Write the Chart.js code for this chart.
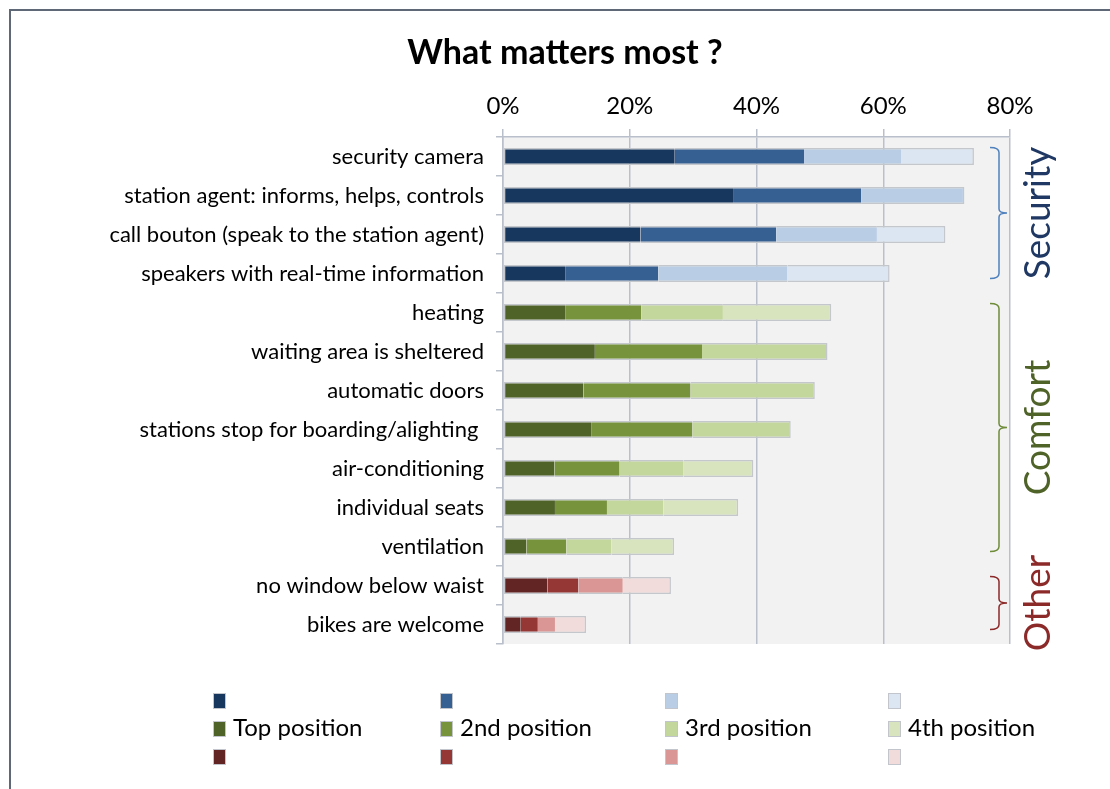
<!DOCTYPE html>
<html>
<head>
<meta charset="utf-8">
<title>What matters most ?</title>
<script src="https://cdn.jsdelivr.net/npm/chart.js@4.4.1/dist/chart.umd.min.js"></script>
<style>
  html, body { margin: 0; padding: 0; background: #fff; overflow: hidden; }
  #wrap { position: relative; width: 1110px; height: 789px; }
  #frame {
    position: absolute; left: 9px; top: 9px; width: 1200px; height: 900px;
    border-left: 2px solid #5f6876; border-top: 2px solid #5f6876;
  }
  canvas { position: absolute; left: 0; top: 0; }
</style>
</head>
<body>
<div id="wrap">
  <div id="frame"></div>
  <canvas id="matterChart" width="1110" height="789"></canvas>
</div>
<script>
// Chart data
const categories = [
    'security camera',
    'station agent: informs, helps, controls',
    'call bouton (speak to the station agent)',
    'speakers with real-time information',
    'heating',
    'waiting area is sheltered',
    'automatic doors',
    'stations stop for boarding/alighting ',
    'air-conditioning',
    'individual seats',
    'ventilation',
    'no window below waist',
    'bikes are welcome'
];
const groupNames = ['Security', 'Comfort', 'Other'];
const groupOf = [0, 0, 0, 0, 1, 1, 1, 1, 1, 1, 1, 2, 2];
const seriesNames = ['Top position', '2nd position', '3rd position', '4th position'];

// share of answers, in %
const topPosition    = [27.1, 36.3, 21.7,  9.8,  9.8, 14.5, 12.7, 13.9,  8.1, 8.2, 3.7, 7.0, 2.8];
const secondPosition = [20.4, 20.2, 21.4, 14.7, 12.0, 16.9, 16.9, 16.0, 10.3, 8.2, 6.3, 4.9, 2.7];
const thirdPosition  = [15.3, 16.3, 15.9, 20.4, 12.9, 19.8, 19.6, 15.5, 10.1, 8.9, 7.1, 7.0, 2.7];
const fourthPosition = [11.5,  0.0, 10.8, 16.1, 17.1,  0.0,  0.0,  0.0, 11.0, 11.8, 9.9, 7.6, 4.9];

const xTickLabels = ['0%', '20%', '40%', '60%', '80%'];

// colours: one row per group, one column per position
const palette = [
    ['#17375e', '#376092', '#b9cde5', '#dce6f2'],
    ['#4f6228', '#77933c', '#c3d69b', '#d7e4bd'],
    ['#632523', '#953735', '#d99694', '#f2dcdb']
];
const bracketColors = ['#4f81bd', '#6f8c3a', '#8c2a2a'];
const groupTextColors = ['#1f3864', '#4f6228', '#8c2a2a'];

const FONT = 'Lato, "Open Sans", sans-serif';
const gridColor = '#b9c0cb';
const barEdge = '#c4c7cc';

const seriesValues = [topPosition, secondPosition, thirdPosition, fourthPosition];

function lastFilled(row) {
    let last = 0;
    seriesValues.forEach((vals, i) => { if (vals[row] > 0) last = i; });
    return last;
}

const datasets = seriesValues.map((vals, s) => ({
    label: seriesNames[s],
    data: vals,
    backgroundColor: groupOf.map(g => palette[g][s]),
    borderColor: barEdge,
    borderSkipped: false,
    borderWidth: ctx => {
        const row = ctx.dataIndex;
        if (!(vals[row] > 0)) return 0;
        return {
            top: 1.5,
            bottom: 1.5,
            left: s === 0 ? 1.5 : 0,
            right: s === lastFilled(row) ? 1.5 : 0
        };
    },
    barPercentage: 0.44,
    categoryPercentage: 1.0
}));

// plot background, title, brackets, group names and legend
const decorations = {
    id: 'decorations',
    beforeDraw(chart) {
        const { ctx, chartArea } = chart;
        ctx.save();
        ctx.fillStyle = '#f2f2f2';
        ctx.fillRect(chartArea.left, chartArea.top,
            chartArea.right - chartArea.left, chartArea.bottom - chartArea.top);
        ctx.restore();
    },
    afterDraw(chart) {
        const { ctx, chartArea } = chart;
        const yScale = chart.scales.y;
        ctx.save();

        // title
        ctx.fillStyle = '#000';
        ctx.font = 'bold 34px ' + FONT;
        ctx.textAlign = 'center';
        ctx.textBaseline = 'middle';
        ctx.fillText('What matters most ?', 565, 53);

        // brackets with group names
        groupNames.forEach((name, g) => {
            const rows = groupOf.map((v, i) => v === g ? i : -1).filter(i => i >= 0);
            const y1 = yScale.getPixelForValue(rows[0]) - 9;
            const y2 = yScale.getPixelForValue(rows[rows.length - 1]) + 5;
            const mid = (y1 + y2) / 2;
            const x0 = chartArea.right - 20;
            const xv = chartArea.right - 11;
            const xt = chartArea.right - 3;
            ctx.strokeStyle = bracketColors[g];
            ctx.lineWidth = 1.5;
            ctx.beginPath();
            ctx.moveTo(x0, y1);
            ctx.quadraticCurveTo(xv, y1, xv, y1 + 5);
            ctx.lineTo(xv, mid - 4);
            ctx.quadraticCurveTo(xv, mid, xt, mid);
            ctx.quadraticCurveTo(xv, mid, xv, mid + 4);
            ctx.lineTo(xv, y2 - 5);
            ctx.quadraticCurveTo(xv, y2, x0, y2);
            ctx.stroke();

            ctx.save();
            ctx.translate(chartArea.right + 28, mid);
            ctx.rotate(-Math.PI / 2);
            ctx.fillStyle = groupTextColors[g];
            ctx.font = '37px ' + FONT;
            ctx.textAlign = 'center';
            ctx.textBaseline = 'middle';
            ctx.fillText(name, 0, 0);
            ctx.restore();
        });

        // legend: one row of swatches per group, names on the middle row
        const colX = [213, 440, 665, 888];
        const rowY = [700, 728, 756];
        palette.forEach((shades, g) => {
            shades.forEach((color, s) => {
                ctx.fillStyle = color;
                ctx.fillRect(colX[s], rowY[g] - 7, 12, 15);
                ctx.strokeStyle = '#c2c6cc';
                ctx.lineWidth = 1;
                ctx.strokeRect(colX[s] + 0.5, rowY[g] - 6.5, 12, 15);
                if (g === 1) {
                    ctx.fillStyle = '#000';
                    ctx.font = '24px ' + FONT;
                    ctx.textAlign = 'left';
                    ctx.textBaseline = 'middle';
                    ctx.fillText(seriesNames[s], colX[s] + 20, rowY[g]);
                }
            });
        });
        ctx.restore();
    }
};

const chartInstance = new Chart(document.getElementById('matterChart').getContext('2d'), {
    type: 'bar',
    data: {
        labels: categories,
        datasets: datasets
    },
    options: {
        indexAxis: 'y',
        responsive: false,
        animation: false,
        layout: {
            padding: { left: 0, right: 100, top: 0, bottom: 145 }
        },
        scales: {
            x: {
                type: 'linear',
                position: 'top',
                stacked: true,
                min: 0,
                max: 80,
                afterFit: scale => { scale.height = 137; },
                ticks: {
                    stepSize: 20,
                    padding: 8,
                    color: '#000',
                    font: { family: FONT, size: 24 },
                    callback: (value, index) => xTickLabels[index]
                },
                grid: { color: gridColor, lineWidth: 1.5, tickLength: 8 },
                border: { color: gridColor, width: 1.5 }
            },
            y: {
                stacked: true,
                afterFit: scale => { scale.width = 503; },
                ticks: {
                    padding: 12,
                    color: '#000',
                    font: { family: FONT, size: 22 }
                },
                grid: {
                    offset: true,
                    drawOnChartArea: false,
                    color: gridColor,
                    lineWidth: 1.5,
                    tickLength: 7
                },
                border: { color: gridColor, width: 1.5 }
            }
        },
        plugins: {
            legend: { display: false },
            title: { display: false },
            tooltip: { enabled: false }
        }
    },
    plugins: [decorations]
});
</script>
</body>
</html>
